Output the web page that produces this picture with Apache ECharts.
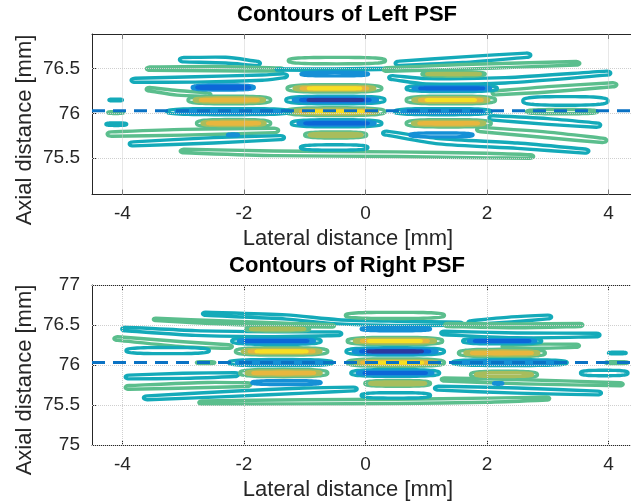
<!DOCTYPE html>
<html><head><meta charset="utf-8">
<script src="https://cdn.jsdelivr.net/npm/echarts@6/dist/echarts.min.js"></script>
<style>html,body{margin:0;padding:0;background:#fff}#c{width:631px;height:504px}</style>
</head><body><div id="c"></div>
<script>
// ---------------- data ----------------
const xTicks = [-4, -2, 0, 2, 4];
const yTicksTop = [75.5, 76, 76.5];
const yTicksBottom = [75, 75.5, 76, 76.5, 77];
const refDepth = 76.03;
const titles = ['Contours of Left PSF', 'Contours of Right PSF'];
const xName = 'Lateral distance [mm]';
const yName = 'Axial distance [mm]';
// contour level colours (parula-like, most negative -> most positive)
const levelColors = ['#2c3a9f', '#0c67d8', '#1590d6', '#14aab9', '#5bbe8d', '#a8bd5c', '#e8b63e', '#f6df24'];

// closed contour blobs: [outerLevel, innerLevel, xStart, xEnd, y, halfHeight]
const leftBlobs = [
  [4, 4, -1.27, 0.33, 76.59, 0.036],
  [2, 2, -1.06, 0.05, 76.44, 0.02],
  [4, 7, -1.29, 0.27, 76.28, 0.042],
  [3, 0, -1.31, 0.32, 76.15, 0.042],
  [4, 7, -1.31, 0.32, 76.02, 0.043],
  [3, 1, -1.22, 0.27, 75.89, 0.04],
  [4, 5, -1.00, 0.02, 75.76, 0.034],
  [3, 3, -1.07, 0.04, 75.62, 0.03],
  [2, 1, -2.85, -1.83, 76.29, 0.028],
  [4, 6, -2.92, -1.56, 76.15, 0.042],
  [3, 2, -3.27, -1.23, 76.02, 0.034],
  [4, 6, -2.78, -1.56, 75.89, 0.042],
  [2, 2, -2.27, -2.09, 75.76, 0.01],
  [4, 5, 0.93, 1.97, 76.44, 0.024],
  [3, 1, 0.67, 2.17, 76.28, 0.036],
  [4, 7, 0.67, 2.14, 76.15, 0.043],
  [3, 2, 0.48, 2.07, 76.02, 0.034],
  [4, 6, 0.67, 2.07, 75.89, 0.041],
  [2, 2, 0.73, 1.77, 75.76, 0.022],
  [3, 3, 2.59, 3.99, 76.14, 0.048],
  [4, 4, 2.65, 3.82, 76.02, 0.024],
  [3, 3, -4.22, -4.00, 76.15, 0.01],
  [4, 4, -4.24, -3.98, 76.01, 0.01],
  [3, 3, -4.27, -3.93, 75.88, 0.014]
];
// long contour bands: [level, halfHeight, x1, y1, x2, y2, ...]
const leftBands = [
  [3, 0.032, -2.99, 76.60, -2.3, 76.595, -1.80, 76.56],
  [4, 0.024, -3.55, 76.50, -2.5, 76.50, -1.40, 76.49],
  [3, 0.008, -1.45, 76.49, -0.5, 76.49, 0.45, 76.50],
  [3, 0.032, 0.56, 76.56, 1.6, 76.60, 2.65, 76.65],
  [4, 0.026, 0.35, 76.49, 1.6, 76.52, 3.47, 76.56],
  [3, 0.03, -3.79, 76.37, -2.8, 76.38, -1.7, 76.40, -1.35, 76.42],
  [3, 0.03, 0.45, 76.40, 1.0, 76.36, 2.3, 76.37, 3.97, 76.45],
  [4, 0.026, -3.55, 76.27, -3.1, 76.23, -2.6, 76.21],
  [4, 0.03, 2.15, 76.23, 3.0, 76.27, 4.07, 76.32],
  [3, 0.032, 2.10, 75.95, 3.0, 75.91, 3.80, 75.87],
  [4, 0.032, -4.18, 75.77, -3.0, 75.79, -1.5, 75.81],
  [4, 0.032, 1.90, 75.82, 3.0, 75.76, 3.90, 75.70],
  [3, 0.03, -3.82, 75.66, -2.5, 75.70, -1.40, 75.73],
  [3, 0.03, 0.35, 75.78, 1.2, 75.69, 2.5, 75.64, 3.61, 75.58],
  [4, 0.026, -2.99, 75.58, -1.5, 75.555, 0.5, 75.545, 2.0, 75.53, 2.71, 75.52]
];
const rightBlobs = [
  [4, 4, -0.33, 1.30, 76.62, 0.038],
  [2, 2, -0.07, 1.07, 76.45, 0.022],
  [4, 7, -0.30, 1.27, 76.30, 0.045],
  [3, 0, -0.32, 1.30, 76.17, 0.045],
  [4, 7, -0.30, 1.30, 76.03, 0.046],
  [3, 1, -0.24, 1.22, 75.90, 0.042],
  [4, 5, -0.01, 1.07, 75.77, 0.036],
  [3, 3, -0.07, 1.07, 75.62, 0.034],
  [4, 5, -1.97, -0.92, 76.45, 0.028],
  [3, 1, -2.20, -0.73, 76.30, 0.042],
  [4, 7, -2.14, -0.62, 76.17, 0.046],
  [3, 2, -2.25, -0.54, 76.03, 0.038],
  [4, 6, -2.07, -0.62, 75.90, 0.046],
  [2, 2, -1.87, -0.73, 75.78, 0.024],
  [3, 1, 1.60, 2.90, 76.30, 0.036],
  [4, 6, 1.53, 2.96, 76.15, 0.046],
  [3, 2, 1.43, 3.32, 76.03, 0.036],
  [4, 5, 1.73, 2.83, 75.88, 0.042],
  [2, 2, 2.11, 2.26, 75.77, 0.01],
  [3, 3, -3.94, -2.57, 76.18, 0.038],
  [4, 4, -2.78, -2.48, 76.03, 0.012],
  [3, 3, 4.00, 4.29, 76.15, 0.01],
  [4, 4, 3.95, 4.32, 76.03, 0.012],
  [3, 3, 3.54, 4.32, 75.90, 0.034]
];
const rightBands = [
  [3, 0.026, -2.63, 76.64, -1.3, 76.60, -0.45, 76.54, 0.6, 76.52, 1.55, 76.515],
  [4, 0.02, -3.45, 76.57, -2.3, 76.53, -1.2, 76.50, -0.55, 76.49],
  [3, 0.032, 1.75, 76.53, 2.4, 76.57, 3.00, 76.60],
  [4, 0.024, 1.35, 76.50, 2.5, 76.49, 3.53, 76.50],
  [3, 0.03, -3.95, 76.45, -2.8, 76.40, -1.5, 76.385, -0.45, 76.39],
  [3, 0.03, 1.30, 76.40, 2.5, 76.37, 3.80, 76.375],
  [4, 0.03, -4.08, 76.33, -3.0, 76.26, -2.25, 76.23],
  [4, 0.026, 2.30, 76.23, 2.9, 76.235, 3.47, 76.24],
  [3, 0.032, -3.89, 75.85, -3.0, 75.865, -2.15, 75.88],
  [4, 0.032, -3.89, 75.72, -2.6, 75.75, -1.95, 75.755],
  [4, 0.026, 1.30, 75.82, 2.6, 75.79, 4.19, 75.76],
  [3, 0.032, -3.59, 75.59, -2.2, 75.64, -1.0, 75.68, -0.2, 75.70],
  [3, 0.032, 1.20, 75.71, 2.5, 75.68, 3.82, 75.65],
  [4, 0.026, -2.69, 75.53, -1.0, 75.54, 0.5, 75.545, 2.0, 75.56, 2.98, 75.58]
];

// ---------------- rendering ----------------
const FONT = '"Liberation Sans", Arial, Helvetica, sans-serif';
const AX = '#262626';
const LW = 3.4;
const SE = 3; // superellipse exponent for the contour ring outline

function ringPoints(cx, cy, a, b) {
  const pts = [], N = 56, e = 2 / SE;
  for (let i = 0; i < N; i++) {
    const t = i / N * Math.PI * 2, c = Math.cos(t), s = Math.sin(t);
    pts.push([cx + a * Math.sign(c) * Math.pow(Math.abs(c), e), cy + b * Math.sign(s) * Math.pow(Math.abs(s), e)]);
  }
  return pts;
}
function blobRender(list) {
  return function (params, api) {
    const d = list[params.dataIndex];
    const lo = d[0], li = d[1];
    const p1 = api.coord([d[2], d[4]]), p2 = api.coord([d[3], d[4]]);
    const hp = Math.abs(api.size([0, d[5]])[1]);
    const n = Math.abs(li - lo) + 1, step = li >= lo ? 1 : -1;
    const half = (p2[0] - p1[0]) / 2, cx = (p1[0] + p2[0]) / 2;
    const children = [];
    for (let k = 0; k < n; k++) {
      const a = Math.max(half * (1 - 0.15 * k), 0.5);
      const b = Math.max(hp - k * 1.5, 0.4);
      children.push({
        type: 'polygon',
        shape: { points: ringPoints(cx, p1[1], a, b) },
        style: { fill: 'none', stroke: levelColors[lo + k * step], lineWidth: LW, lineJoin: 'round' }
      });
    }
    return { type: 'group', children: children };
  };
}
function bandRender(list) {
  return function (params, api) {
    const d = list[params.dataIndex];
    const c = [];
    for (let i = 2; i < d.length; i += 2) c.push(api.coord([d[i], d[i + 1]]));
    const hp = Math.max(Math.abs(api.size([0, d[1]])[1]), 0.4);
    const m = c.length;
    const f = i => (i === 0 || i === m - 1) ? 0.75 : 1;
    const pts = [];
    c.forEach((p, i) => pts.push([p[0], p[1] - hp * f(i)]));
    const last = c[m - 1], first = c[0], r = hp * 0.75;
    for (let a = 1; a < 6; a++) { const t = -Math.PI / 2 + a * Math.PI / 6; pts.push([last[0] + 2 * r * Math.cos(t), last[1] + r * Math.sin(t)]); }
    for (let i = m - 1; i >= 0; i--) pts.push([c[i][0], c[i][1] + hp * f(i)]);
    for (let a = 1; a < 6; a++) { const t = Math.PI / 2 + a * Math.PI / 6; pts.push([first[0] + 2 * r * Math.cos(t), first[1] + r * Math.sin(t)]); }
    return { type: 'polygon', shape: { points: pts, smooth: 0.25 }, style: { fill: 'none', stroke: levelColors[d[0]], lineWidth: LW, lineJoin: 'round' } };
  };
}

const xMin = -4.5, xMax = 4.37;
function xAx(gi, pos) {
  return {
    type: 'value', gridIndex: gi, position: pos, min: xMin, max: xMax,
    axisLine: { show: true, onZero: false, lineStyle: { color: AX, width: 1 } },
    axisTick: { show: true, inside: true, length: 5, customValues: xTicks, lineStyle: { color: AX } },
    axisLabel: { show: pos === 'bottom', customValues: xTicks, fontSize: 19, color: AX, margin: 10, fontFamily: FONT },
    splitLine: { show: false }
  };
}
function yAx(gi, mn, mx, ticks) {
  return {
    type: 'value', gridIndex: gi, min: mn, max: mx,
    axisLine: { show: true, onZero: false, lineStyle: { color: AX, width: 1 } },
    axisTick: { show: true, inside: true, length: 5, customValues: ticks, lineStyle: { color: AX } },
    axisLabel: { customValues: ticks, fontSize: 19, color: AX, margin: 12, fontFamily: FONT },
    splitLine: { show: false }
  };
}
function gridLines(xi, yi, yt) {
  return {
    type: 'line', xAxisIndex: xi, yAxisIndex: yi, data: [], silent: true, z: 1,
    markLine: {
      symbol: 'none', silent: true, animation: false, label: { show: false },
      lineStyle: { type: 'dotted', color: '#cfcfcf', width: 1 },
      emphasis: { disabled: true },
      data: xTicks.map(v => ({ xAxis: v })).concat(yt.map(v => ({ yAxis: v })))
    }
  };
}
function refLine(xi, yi) {
  return {
    type: 'line', xAxisIndex: xi, yAxisIndex: yi, silent: true, z: 10,
    showSymbol: false, symbol: 'none', clip: true,
    data: [[xMin, refDepth], [xMax, refDepth]],
    lineStyle: { type: [13, 8], color: '#0a72c4', width: 3, opacity: 1 },
    itemStyle: { color: '#0a72c4' },
    emphasis: { disabled: true }
  };
}
function contourSeries(xi, yi, blobs, bands) {
  return [
    { type: 'custom', xAxisIndex: xi, yAxisIndex: yi, clip: true, silent: true, z: 3,
      renderItem: bandRender(bands), data: bands.map(b => [b[2], b[3]]) },
    { type: 'custom', xAxisIndex: xi, yAxisIndex: yi, clip: true, silent: true, z: 4,
      renderItem: blobRender(blobs), data: blobs.map(b => [b[2], b[4]]) }
  ];
}

const chart = echarts.init(document.getElementById('c'), null, { renderer: 'canvas' });
const txt = (x, y, text, font, rot, color) => ({
  type: 'text', x: x, y: y, rotation: rot || 0, silent: true,
  style: { text: text, font: font, fill: color || AX, textAlign: 'center', textVerticalAlign: 'middle', align: 'center', verticalAlign: 'middle' }
});
chart.setOption({
  animation: false,
  backgroundColor: '#fff',
  grid: [
    { left: 92, top: 34, right: 0, height: 160.5, outerBoundsMode: 'none' },
    { left: 92, top: 285, right: 0, height: 160, outerBoundsMode: 'none' }
  ],
  xAxis: [xAx(0, 'bottom'), xAx(0, 'top'), xAx(1, 'bottom'), xAx(1, 'top')],
  yAxis: [yAx(0, 75.095, 76.887, yTicksTop), yAx(1, 75, 77, yTicksBottom)],
  series: [
    gridLines(0, 0, yTicksTop), gridLines(2, 1, yTicksBottom),
    ...contourSeries(0, 0, leftBlobs, leftBands),
    ...contourSeries(2, 1, rightBlobs, rightBands),
    refLine(0, 0), refLine(2, 1)
  ],
  graphic: [
    txt(347, 15, titles[0], 'bold 22px ' + FONT, 0, '#000'),
    txt(347, 266, titles[1], 'bold 22px ' + FONT, 0, '#000'),
    txt(348, 239, xName, '22px ' + FONT),
    txt(348, 490, xName, '22px ' + FONT),
    txt(25, 130, yName, '22px ' + FONT, Math.PI / 2),
    txt(25, 380, yName, '22px ' + FONT, Math.PI / 2)
  ]
});
</script></body></html>
